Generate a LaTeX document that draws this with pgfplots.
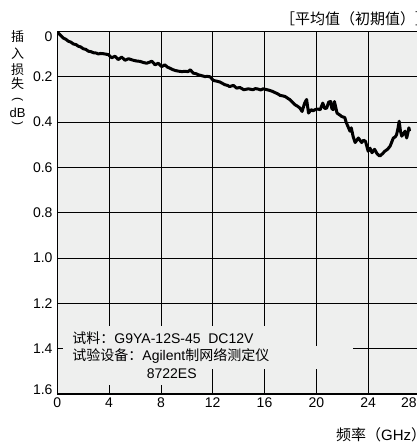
\documentclass[border=0pt]{standalone}
\usepackage{fontspec}
\setmainfont{Liberation Sans}
\newfontfamily\cjk{Noto Sans CJK SC}
\usepackage{pgfplots}
\pgfplotsset{compat=1.18}
\definecolor{plotbg}{RGB}{238,239,238}
\begin{document}
\begin{tikzpicture}
\path[use as bounding box] (0,0) rectangle (417pt,444pt);
\clip (0,0) rectangle (417pt,444pt);
\begin{axis}[
  at={(57.3pt,50pt)}, anchor=south west,
  scale only axis, width=388.5pt, height=362.5pt,
  xmin=0, xmax=30, ymin=0, ymax=1.6, y dir=reverse,
  xtick={0,4,8,12,16,20,24,28},
  xticklabels={0,4,8,12,16,20,24,\hspace{-22pt}28},
  ytick={0,0.2,0.4,0.6,0.8,1.0,1.2,1.4,1.6},
  yticklabels={\raisebox{-10pt}[0pt][0pt]{0},0.2,0.4,0.6,0.8,1.0,1.2,1.4,\raisebox{0pt}[0pt][0pt]{1.6}},
  /pgf/number format/assume math mode=true,
  ticklabel style={font=\fontsize{14}{16}\selectfont},
  xticklabel style={anchor=north, inner sep=0pt, yshift=-4pt},
  yticklabel style={anchor=east, inner sep=0pt, xshift=-4.6pt},
  major tick length=0pt,
  grid=major,
  major grid style={black, line width=0.8pt},
  axis line style={black, line width=1.5pt},
  axis background/.style={fill=plotbg},
  clip=true,
]
\addplot[black, line width=3pt, line join=round] coordinates {
(0.00,0.000) (0.08,0.007) (0.30,0.020) (0.46,0.029) (0.65,0.034) (0.85,0.043) (1.05,0.047) (1.24,0.055) (1.45,0.058)
(1.62,0.065) (1.80,0.068) (2.00,0.076) (2.20,0.079) (2.40,0.087) (2.60,0.089) (2.80,0.094) (3.00,0.095) (3.17,0.099)
(3.35,0.097) (3.55,0.098) (3.75,0.100) (3.94,0.102) (4.20,0.116) (4.46,0.109) (4.70,0.124)
(4.97,0.113) (5.23,0.127) (5.50,0.120) (5.87,0.127) (6.10,0.130) (6.40,0.132) (6.65,0.137) (6.90,0.140)
(7.10,0.136) (7.30,0.131) (7.55,0.147) (7.80,0.140) (8.06,0.155) (8.30,0.147) (8.50,0.157)
(8.70,0.162) (8.90,0.168) (9.10,0.172) (9.35,0.175) (9.60,0.177) (9.85,0.176) (10.10,0.177) (10.27,0.169)
(10.50,0.184) (10.70,0.186) (10.90,0.191) (11.15,0.195) (11.40,0.199) (11.60,0.198) (11.80,0.200) (12.05,0.216)
(12.30,0.219) (12.56,0.223) (12.75,0.229) (12.95,0.235) (13.15,0.238) (13.30,0.243) (13.60,0.238) (13.85,0.250)
(14.10,0.247) (14.40,0.257) (14.75,0.253) (15.10,0.257) (15.30,0.252) (15.50,0.254) (15.70,0.258) (15.90,0.253)
(16.20,0.257) (16.40,0.260) (16.60,0.264) (16.90,0.272) (17.05,0.276) (17.20,0.282) (17.40,0.284) (17.60,0.287)
(17.80,0.295) (17.97,0.301) (18.15,0.312) (18.35,0.323) (18.55,0.330) (18.74,0.338) (18.90,0.353) (19.10,0.316)
(19.25,0.300) (19.40,0.360) (19.60,0.345) (19.75,0.350) (19.90,0.345) (20.10,0.342) (20.30,0.345) (20.50,0.316)
(20.65,0.340) (20.80,0.338) (20.95,0.312) (21.10,0.309) (21.20,0.340) (21.30,0.345) (21.40,0.309) (21.60,0.360)
(21.80,0.368) (21.96,0.375) (22.20,0.380) (22.30,0.400) (22.45,0.420) (22.60,0.440) (22.70,0.425) (22.85,0.465)
(23.00,0.490) (23.25,0.470) (23.50,0.490) (23.65,0.480) (23.80,0.485) (24.00,0.528) (24.15,0.515) (24.30,0.535)
(24.50,0.520) (24.70,0.540) (24.90,0.550) (25.10,0.540) (25.30,0.528) (25.50,0.520) (25.70,0.506) (25.95,0.470)
(26.10,0.465) (26.20,0.455) (26.30,0.430) (26.40,0.396) (26.50,0.440) (26.60,0.462) (26.75,0.450) (26.85,0.440)
(26.98,0.470) (27.10,0.440) (27.15,0.425) (27.20,0.440)
};
\fill[plotbg] (axis cs:0.44,1.2989) rectangle (axis cs:16.58,1.3868);
\fill[plotbg] (axis cs:0.44,1.3868) rectangle (axis cs:22.83,1.4879);
\fill[plotbg] (axis cs:0.44,1.4879) rectangle (axis cs:11.40,1.5582);
\node[anchor=base west, inner sep=0pt, font=\fontsize{14}{16}\selectfont] at (axis cs:1.158,1.375)
  {{\cjk 试料：}G9YA-12S-45\hspace{0.55em}DC12V};
\node[anchor=base west, inner sep=0pt, font=\fontsize{14}{16}\selectfont] at (axis cs:1.158,1.4505)
  {{\cjk 试验设备：}Agilent{\cjk 制网络测定仪}};
\node[anchor=base west, inner sep=0pt, font=\fontsize{14}{16}\selectfont] at (axis cs:6.9,1.5319)
  {8722ES};
\end{axis}
\node[anchor=west, inner sep=0pt, font=\cjk\fontsize{15}{18}\selectfont] at (280pt,425.3pt) {［平均值（初期值）］};
\node[anchor=west, inner sep=0pt, font=\fontsize{15}{18}\selectfont] at (336pt,9pt) {{\cjk 频率（}GHz{\cjk ）}};
\begin{scope}[every node/.style={anchor=center, inner sep=0pt, font=\cjk\fontsize{13}{16}\selectfont}]
\node at (17.5pt,407.3pt) {插};
\node at (17.5pt,390.7pt) {入};
\node at (17.5pt,374.7pt) {损};
\node at (17.5pt,360.7pt) {失};
\node[font=\fontsize{12}{14}\selectfont] at (17.5pt,344pt) {\rotatebox{-90}{(}};
\node[font=\fontsize{13}{16}\selectfont] at (17.5pt,331.5pt) {dB};
\node[font=\fontsize{12}{14}\selectfont] at (17.5pt,320.5pt) {\rotatebox{-90}{)}};
\end{scope}
\end{tikzpicture}
\end{document}
